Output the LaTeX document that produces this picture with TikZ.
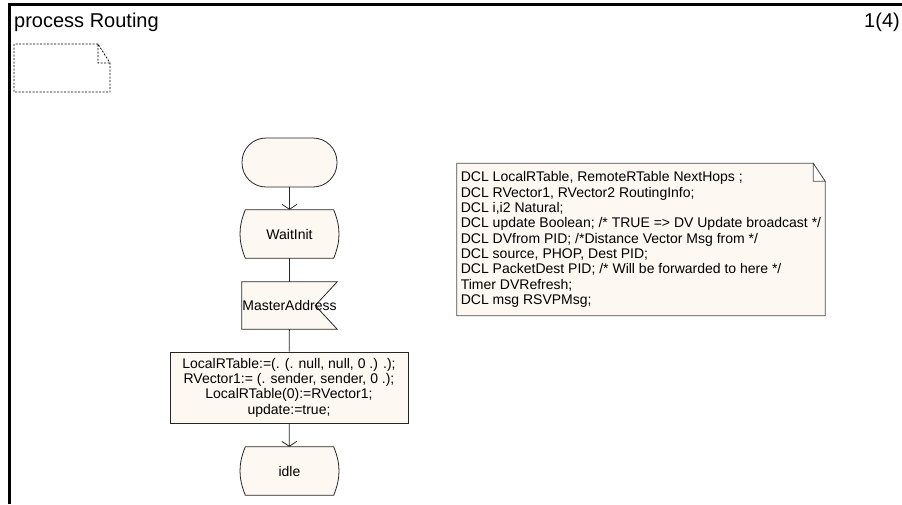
\documentclass[tikz,border=0pt]{standalone}
\usepackage{fontspec}
\setmainfont{Liberation Sans}
\usetikzlibrary{arrows.meta, backgrounds}

\definecolor{sdlfill}{HTML}{FDF8F1}
\tikzset{
    sym/.style={minimum width=88pt, minimum height=48pt, inner sep=0pt, font=\fontsize{14}{15.3}\selectfont},
    outline/.style={draw=black!85, fill=sdlfill, line width=0.8pt},
    flow/.style={draw=black!85, line width=0.8pt},
    flowarrow/.style={flow, -{Straight Barb[length=5pt, width=15pt]}},
    big/.style={font=\fontsize{20}{20}\selectfont, inner sep=0pt}
}

\begin{document}
\begin{tikzpicture}[x=1pt, y=-1pt]
    \useasboundingbox (0,0) rectangle (902,504);

    % Frame
    \draw[line width=3pt] (9.5,504) -- (9.5,4.5) -- (902,4.5);
    \node[big, anchor=base west] (title) at (14,27.5) {process Routing};
    \node[big, anchor=base east] (page) at (900,27.5) {1(4)};

    % Empty text symbol
    \draw[line width=0.8pt, dash pattern=on 2pt off 1.5pt]
        (98,44) -- (14,44) -- (14,92) -- (110,92) -- (110,63) -- (98,44) -- (98,63) -- (110,63);

    % Flow
    \node[sym, outline, minimum width=95pt, minimum height=49pt, rounded corners=24pt] (start) at (289.5,162.5) {};
    \node[sym] (wait) at (289.5,234) {WaitInit};
    \node[sym, minimum width=95pt, minimum height=47pt] (addr) at (289.5,305.5) {MasterAddress};
    \node[sym, outline, minimum width=238pt, minimum height=71pt, align=center] (task) at (289,387.5)
        {LocalRTable:=(. (. null, null, 0 .) .);\\RVector1:= (. sender, sender, 0 .);\\LocalRTable(0):=RVector1;\\update:=true;};
    \node[sym] (idle) at (289.5,471) {idle};

    % Declarations
    \node[sym, minimum width=368pt, minimum height=152pt, align=left] (dcl) at (641,239.5)
        {DCL LocalRTable, RemoteRTable NextHops ;\\
         DCL RVector1, RVector2 RoutingInfo;\\
         DCL i,i2 Natural;\\
         DCL update Boolean; /* TRUE => DV Update broadcast */\\
         DCL DVfrom PID; /*Distance Vector Msg from */\\
         DCL source, PHOP, Dest PID;\\
         DCL PacketDest PID; /* Will be forwarded to here */\\
         Timer DVRefresh;\\
         DCL msg RSVPMsg;};

    % Symbol outlines
    \begin{scope}[on background layer]
        \path[outline] (wait.north west) -- (wait.north east) to[bend left=22] (wait.south east)
            -- (wait.south west) to[bend left=22] cycle;
        \path[outline] (idle.north west) -- (idle.north east) to[bend left=22] (idle.south east)
            -- (idle.south west) to[bend left=22] cycle;
        \path[outline] (addr.north west) -- (addr.north east) -- ([xshift=-22pt]addr.east)
            -- (addr.south east) -- (addr.south west) -- cycle;
        \path[outline, draw=black!70] (dcl.north west) -- ([xshift=-12pt]dcl.north east)
            -- ([yshift=-18pt]dcl.north east) -- (dcl.south east) -- (dcl.south west) -- cycle;
        \draw[draw=black!70, line width=0.8pt, fill=white] ([xshift=-12pt]dcl.north east)
            -- ([xshift=-12pt, yshift=-18pt]dcl.north east) -- ([yshift=-18pt]dcl.north east) -- cycle;
    \end{scope}

    % Connectors
    \draw[flowarrow] (start) -- (wait);
    \draw[flow] (wait) -- (addr);
    \draw[flow] (addr) -- (task);
    \draw[flowarrow] (task) -- (idle);
\end{tikzpicture}
\end{document}
